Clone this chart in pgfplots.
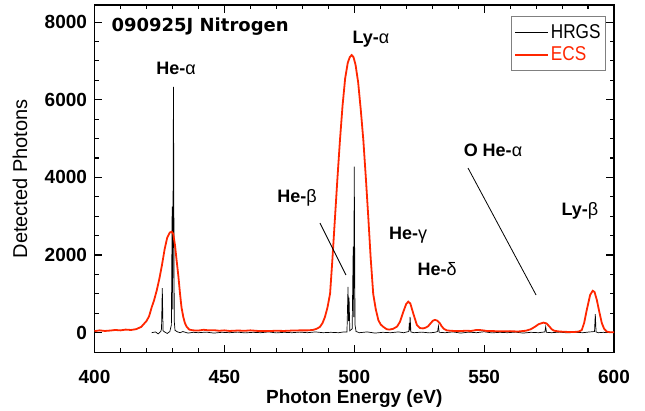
\documentclass[border=0pt]{standalone}
\usepackage{fontspec}
\setmainfont{Liberation Sans}
\newfontfamily\titlefont{DejaVu Sans}
\newfontfamily\narrowfont[FakeStretch=0.86]{Liberation Sans}
\usepackage{pgfplots}
\pgfplotsset{compat=1.18}
\definecolor{ecsred}{RGB}{255,38,0}
\newcommand\lblfont{\bfseries\fontsize{19}{21}\selectfont}
\newcommand\legfont{\narrowfont\fontsize{20}{22}\selectfont}

\begin{document}
\begin{tikzpicture}
\useasboundingbox (-94.5pt,-58.3pt) rectangle (550.5pt,352.7pt);
\begin{axis}[
  at={(0,0)}, anchor=south west,
  scale only axis,
  width=519.5pt, height=347.7pt,
  xmin=400, xmax=600,
  ymin=-515, ymax=8440,
  xtick={400,450,...,600},
  ytick={0,2000,...,8000},
  minor x tick num=4,
  minor y tick num=3,
  tick align=inside,
  major tick length=8pt,
  minor tick length=4.5pt,
  every tick/.style={black, line width=1.1pt},
  axis line style={line width=1.4pt},
  /pgf/number format/assume math mode=true,
  /pgf/number format/1000 sep={},
  ticklabel style={font=\lblfont},
  yticklabel shift=4pt,
  xticklabel shift=14pt,
  xlabel={Photon Energy (eV)},
  ylabel={Detected Photons},
  every axis x label/.style={at={(axis description cs:0.5,-0.1332)}, anchor=center, font=\lblfont},
  every axis y label/.style={at={(axis description cs:-0.1434,0.5)}, rotate=90, anchor=center, font=\fontsize{20}{22}\selectfont},
  legend style={at={(axis description cs:0.9846,0.968)}, anchor=north east,
    draw=gray, line width=0.8pt,
    inner xsep=3pt, inner ysep=6pt, row sep=3pt, cells={anchor=west}},
  legend image code/.code={\draw[#1] (0pt,0pt) -- (33pt,0pt);},
]
% HRGS
\addplot[black, line width=0.7pt] coordinates {
(422,0) (423.5,20) (424.5,-30) (425.5,30) (425.8,100) (426.1,1150) (426.4,50)
(427,20) (428,-20) (429,30) (429.6,200) (429.9,3250) (430.1,600) (430.4,6330)
(430.7,300) (431,60) (432,20) (433,0) (434,30) (436,-10) (438,10) (440,0)
(443,15) (446,-10) (449,10) (452,0) (455,15) (458,-5) (461,10) (464,0)
(467,20) (470,-5) (473,10) (476,0) (479,15) (482,0) (485,20) (488,0)
(491,10) (494,0) (496,20) (497.2,20) (497.6,1180) (497.8,300) (498.0,900)
(498.3,50) (499.2,100) (499.6,2214) (499.8,400) (500.0,4274) (500.3,200)
(500.7,30) (502,0) (505,20) (508,-10) (511,10) (514,0) (517,20) (519,0)
(521,30) (521.2,250) (521.35,60) (521.5,410) (521.8,20) (523,0) (526,15)
(529,-5) (531,10) (532.1,30) (532.4,170) (532.7,10) (535,0) (538,20)
(541,-10) (544,15) (547,0) (550,25) (553,-5) (556,10) (559,0) (562,15)
(565,-10) (568,10) (571,0) (573.4,20) (573.7,155) (574,10) (576,0) (579,15)
(582,-5) (585,10) (588,0) (590,15) (592.5,30) (592.8,480) (593.1,20)
(594,0) (596,10) (597,0)
};
\addlegendentry{\legfont HRGS}
% ECS
\addplot[ecsred, line width=1.8pt] coordinates {
(400,40) (402,60) (404,45) (406,55) (408,70) (410,60) (412,80) (414,70)
(416,90) (418,150) (420,300) (421,420) (422,650) (423,850) (424,1100)
(425,1400) (426,1750) (427,2150) (428,2450) (429,2580) (429.7,2600)
(430.3,2550) (431,2250) (431.6,1870) (432.3,1450) (432.9,1020) (433.5,650)
(434.2,400) (434.8,250) (435.5,150) (436.5,80) (438,60) (440,55) (442,75)
(444,60) (446,65) (448,50) (450,60) (452,45) (455,55) (458,50) (460,60)
(463,45) (466,40) (470,50) (473,45) (476,55) (479,60) (482,60) (484,70)
(485.5,100) (486.8,150) (487.8,250) (488.7,400) (489.7,650) (490.7,1010)
(491.6,1900) (492.6,2980) (493.5,3950) (494.5,4960) (495.5,5850)
(496.5,6550) (497.5,6950) (498.3,7100) (499.0,7150) (499.7,7100)
(500.5,6900) (501.5,6450) (502.5,5750) (503.5,4960) (504.5,3950)
(505.4,2980) (506.3,1950) (507.3,1000) (508.3,600) (509.3,320)
(510.2,210) (511.2,150) (512.5,90) (513.5,80) (515,100) (516.5,160)
(517.6,280) (518.9,540) (520,740) (520.8,800) (521.6,750) (522.7,500)
(524.1,200) (525.3,120) (526.5,110) (527.5,130) (528.5,170) (529.5,250)
(530.3,310) (531.1,330) (532,310) (533,240) (533.6,170) (534.5,100)
(535.6,60) (537,50) (540,40) (543,50) (545,45) (547,70) (549,65) (551,45)
(554,40) (557,35) (560,40) (563,30) (566,50) (568,90) (569.5,150) (571,220)
(572.8,260) (574,240) (575,170) (576,90) (577,50) (579,30) (582,20)
(585,20) (586.5,30) (587.6,70) (588.5,250) (589.5,580) (590.8,970)
(591.8,1080) (592.5,1050) (593.4,840) (594.3,550) (595.3,250) (596.2,100)
(597.2,30) (598.5,10) (600,10)
};
\addlegendentry{\legfont\textcolor{ecsred}{ECS}}
% annotations
\node[anchor=west, font=\titlefont\bfseries\fontsize{18}{20}\selectfont] at (axis cs:405.2,7884) {090925J Nitrogen};
\begin{scope}[every node/.style={font=\bfseries\fontsize{18}{20}\selectfont}]
\node at (axis cs:431.4,6815) {He-{\mdseries α}};
\node at (axis cs:506.4,7562) {Ly-{\mdseries α}};
\node at (axis cs:478.0,3468) {He-{\mdseries β}};
\node at (axis cs:520.7,2515) {He-{\mdseries γ}};
\node at (axis cs:531.9,1640) {He-{\mdseries δ}};
\node at (axis cs:553.4,4704) {O He-{\mdseries α}};
\node at (axis cs:586.9,3133) {Ly-{\mdseries β}};
\end{scope}
\draw[black, line width=0.8pt] (axis cs:486.8,2824) -- (axis cs:496.8,1486);
\draw[black, line width=0.8pt] (axis cs:543.8,4241) -- (axis cs:570.0,971);
\end{axis}
\end{tikzpicture}
\end{document}
